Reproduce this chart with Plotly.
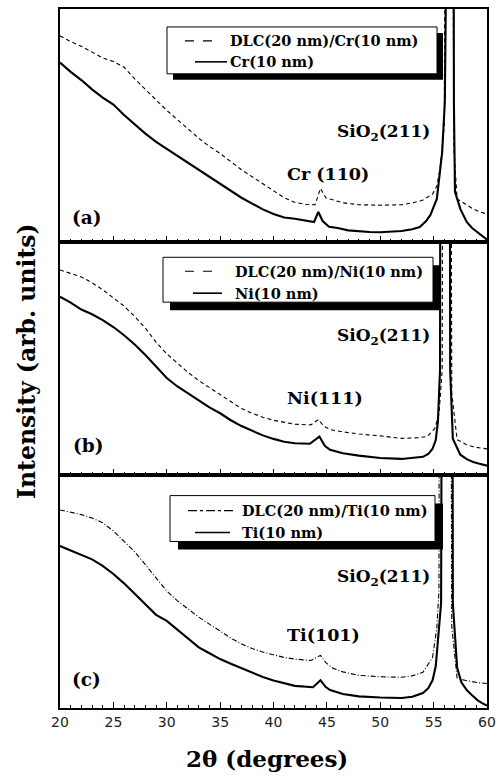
import plotly.graph_objects as go
from plotly.subplots import make_subplots

# ---------------- data ----------------
# Panel (a): Cr
x_a_dlc = [20.0, 21.0, 22.0, 23.0, 24.0, 25.0, 26.0, 27.0, 28.0, 29.0, 30.0, 31.0, 32.0, 33.0,
           34.0, 35.0, 36.0, 37.0, 38.0, 39.0, 40.0, 41.0, 42.0, 43.0, 43.9, 44.4, 44.9, 45.6,
           46.5, 48.0, 50.0, 52.0, 53.0, 54.0, 54.9, 55.3, 55.6, 56.0, 56.25, 56.55, 56.9, 57.2,
           58.0, 58.7, 59.3, 60.0]
y_a_dlc = [88.5, 86.0, 84.0, 81.5, 79.0, 77.5, 75.0, 70.0, 65.5, 61.0, 56.5, 52.5, 48.5, 44.5,
           41.0, 38.0, 34.5, 31.0, 28.0, 25.0, 22.0, 19.0, 17.0, 16.2, 16.0, 23.0, 19.0, 18.0,
           16.8, 16.0, 15.8, 16.0, 16.8, 18.0, 20.6, 24.0, 31.3, 50.0, 400, 400, 40.0, 18.5,
           16.0, 14.2, 13.0, 12.0]
x_a_met = [20.0, 21.0, 22.0, 23.0, 24.0, 25.0, 26.0, 27.0, 28.0, 29.0, 30.0, 31.0, 32.0, 33.0,
           34.0, 35.0, 36.0, 37.0, 38.0, 39.0, 40.0, 41.0, 42.0, 43.0, 43.8, 44.2, 44.6, 45.2,
           46.0, 47.0, 48.0, 49.0, 50.0, 51.0, 52.0, 53.0, 53.7, 54.3, 54.7, 55.3, 55.8, 56.05,
           56.15, 56.8, 56.9, 57.0, 57.5, 58.1, 58.6, 59.1, 59.6, 60.0]
y_a_met = [77.0, 73.0, 69.5, 65.5, 62.0, 59.0, 54.5, 50.5, 46.5, 43.0, 40.0, 37.0, 34.0, 31.0,
           28.0, 25.0, 22.0, 19.0, 16.5, 14.0, 12.0, 10.5, 10.0, 9.2, 8.6, 12.9, 9.0, 6.5,
           6.0, 5.0, 4.5, 4.3, 4.2, 4.3, 4.7, 5.5, 6.4, 9.0, 11.6, 18.5, 38.6, 60.0,
           400, 400, 60.0, 21.5, 14.2, 8.6, 6.0, 4.3, 2.2, 1.0]

# Panel (b): Ni
x_b_dlc = [20.0, 21.0, 22.0, 23.0, 24.0, 25.0, 26.0, 27.0, 28.0, 29.0, 30.0, 31.0, 32.0, 33.0,
           34.0, 35.0, 36.0, 37.0, 38.0, 39.0, 40.0, 41.0, 42.0, 43.5, 44.2, 44.7, 45.3, 46.5,
           48.0, 50.0, 52.0, 53.5, 54.4, 55.1, 55.5, 55.8, 55.95, 56.5, 56.7, 57.2, 58.0, 58.7,
           59.3, 60.0]
y_b_dlc = [88.0, 86.5, 85.0, 82.5, 79.5, 76.0, 72.5, 68.0, 63.0, 57.0, 52.0, 48.0, 44.0, 40.5,
           37.5, 34.5, 31.3, 28.5, 26.5, 24.8, 23.5, 22.5, 21.8, 21.5, 23.8, 21.0, 19.5, 18.5,
           17.6, 16.8, 15.7, 16.0, 16.5, 19.9, 26.0, 45.0, 400, 400, 35.0, 15.2, 13.2, 12.1,
           11.6, 11.2]
x_b_met = [20.0, 21.0, 22.0, 23.0, 24.0, 25.0, 26.0, 27.0, 28.0, 29.0, 30.0, 31.0, 32.0, 33.0,
           34.0, 35.0, 36.0, 37.0, 38.0, 39.0, 40.0, 41.0, 42.0, 43.4, 44.3, 44.8, 45.3, 46.5,
           48.0, 50.0, 52.0, 53.0, 54.0, 54.5, 54.9, 55.2, 55.4, 55.6, 55.7, 56.45, 56.55, 56.8,
           57.5, 58.1, 58.7, 59.3, 60.0]
y_b_met = [76.5, 74.0, 71.0, 69.0, 66.5, 63.5, 60.0, 56.0, 51.5, 46.5, 41.6, 38.0, 35.0, 32.0,
           29.0, 26.5, 23.5, 21.0, 19.0, 17.0, 15.5, 14.3, 13.6, 13.4, 16.5, 12.5, 10.8, 9.3,
           8.3, 7.3, 6.9, 7.2, 7.8, 9.0, 11.3, 15.0, 22.9, 45.0, 400, 400, 45.0, 15.6,
           8.7, 6.8, 5.6, 4.8, 4.0]

# Panel (c): Ti
x_c_dlc = [20.0, 21.0, 22.0, 23.0, 24.0, 25.0, 26.0, 27.0, 28.0, 29.0, 30.0, 31.0, 32.0, 33.0,
           34.0, 35.0, 36.0, 37.0, 38.0, 39.0, 40.0, 41.0, 42.0, 43.5, 44.4, 44.9, 45.6, 46.5,
           48.0, 50.0, 52.0, 53.0, 54.0, 54.9, 55.3, 55.5, 55.6, 56.5, 56.7, 57.2, 58.0, 58.7,
           59.3, 60.0]
y_c_dlc = [85.0, 84.0, 83.0, 81.5, 79.5, 76.0, 71.5, 67.0, 61.5, 56.0, 50.2, 46.0, 42.5, 39.0,
           36.0, 33.0, 30.0, 27.5, 25.5, 24.0, 22.8, 21.7, 21.0, 20.4, 22.6, 19.5, 17.0, 15.5,
           14.0, 13.4, 13.2, 13.8, 15.3, 21.7, 34.5, 50.0, 400, 400, 35.0, 12.8, 11.8, 11.1,
           10.8, 10.5]
x_c_met = [20.0, 21.0, 22.0, 23.0, 24.0, 25.0, 26.0, 27.0, 28.0, 29.0, 30.0, 31.0, 32.0, 33.0,
           34.0, 35.0, 36.0, 37.0, 38.0, 39.0, 40.0, 41.0, 42.0, 43.7, 44.4, 44.9, 45.3, 46.5,
           48.0, 50.0, 52.0, 53.0, 54.0, 54.5, 54.9, 55.2, 55.4, 55.7, 55.9, 56.7, 56.8, 57.2,
           57.6, 58.1, 58.6, 59.1, 59.5, 60.0]
y_c_met = [69.5, 67.5, 65.5, 63.8, 61.0, 57.5, 53.5, 49.0, 44.5, 40.0, 37.4, 33.5, 30.0, 26.0,
           23.5, 21.0, 19.0, 17.0, 15.0, 13.3, 11.8, 10.5, 9.5, 8.9, 11.9, 9.0, 7.7, 6.0,
           5.0, 4.5, 4.3, 4.8, 6.4, 8.5, 11.9, 18.0, 27.7, 45.0, 400, 400, 45.0, 17.4,
           11.0, 7.7, 5.5, 3.4, 2.2, 1.0]

x_ticks = [20, 25, 30, 35, 40, 45, 50, 55, 60]
x_tick_labels = ["20", "25", "30", "35", "40", "45", "50", "55", "60"]

dlc_names = ["DLC(20 nm)/Cr(10 nm)", "DLC(20 nm)/Ni(10 nm)", "DLC(20 nm)/Ti(10 nm)"]
metal_names = ["Cr(10 nm)", "Ni(10 nm)", "Ti(10 nm)"]
peak_names = ["Cr (110)", "Ni(111)", "Ti(101)"]
panel_names = ["(a)", "(b)", "(c)"]
sio2_name = "SiO<sub>2</sub>(211)"

# ---------------- figure ----------------
W, H = 504, 783
L, R, T, B = 60, 17, 7, 75
PW, PH = W - L - R, H - T - B


def pxx(x):
    return (x - L) / PW


def pxy(y):
    return (H - B - y) / PH


fig = make_subplots(rows=3, cols=1, shared_xaxes=True, vertical_spacing=0)

series = [
    (x_a_dlc, y_a_dlc, x_a_met, y_a_met, "4px,3px"),
    (x_b_dlc, y_b_dlc, x_b_met, y_b_met, "4px,3px"),
    (x_c_dlc, y_c_dlc, x_c_met, y_c_met, "5px,2px,1px,2px"),
]

for i, (xd, yd, xm, ym, dash) in enumerate(series):
    fig.add_trace(go.Scatter(x=xd, y=yd, mode="lines", name=dlc_names[i], showlegend=False,
                             line=dict(color="black", width=1.1, dash=dash)), row=i + 1, col=1)
    fig.add_trace(go.Scatter(x=xm, y=ym, mode="lines", name=metal_names[i], showlegend=False,
                             line=dict(color="black", width=2.1)), row=i + 1, col=1)

serif_b = "DejaVu Serif"
for i in range(3):
    r = i + 1
    fig.update_xaxes(range=[20, 60], showline=True, mirror=True, linecolor="black", linewidth=1.5,
                     ticks="inside", ticklen=6, tickwidth=1.2, tickcolor="black",
                     tickvals=x_ticks, ticktext=x_tick_labels,
                     minor=dict(ticks="inside", ticklen=3, tickwidth=1, tickcolor="black", dtick=1),
                     showgrid=False, zeroline=False,
                     tickfont=dict(family="DejaVu Sans", size=14, color="#222"),
                     showticklabels=(r == 3), row=r, col=1)
    fig.update_yaxes(range=[0, 100], showline=True, mirror=True, linecolor="black", linewidth=1.5,
                     ticks="", showticklabels=False, showgrid=False, zeroline=False, row=r, col=1)

# ---------------- manual legends with drop shadow ----------------
legend_boxes = [(167, 25, 437, 72), (163, 256, 433, 301), (170, 495, 435, 541)]
shadow_off = [(6, 6), (7, 8), (8, 8)]
text_x = [228, 233, 240]
line1_y = [39, 270, 510]
line2_y = [60, 292, 532]
sample1 = [(185, 218), (185, 220), (188, 233)]
sample2 = [(195, 227), (193, 222), (195, 230)]
sample_dash = ["dash", "dash", "dashdot"]

shapes = []
annotations = []
for i in range(3):
    x0, y0, x1, y1 = legend_boxes[i]
    dx, dy = shadow_off[i]
    shapes.append(dict(type="rect", xref="paper", yref="paper", layer="above",
                       x0=pxx(x0 + dx), x1=pxx(x1 + dx), y0=pxy(y0 + dy), y1=pxy(y1 + dy),
                       fillcolor="black", line=dict(width=0)))
    shapes.append(dict(type="rect", xref="paper", yref="paper", layer="above",
                       x0=pxx(x0), x1=pxx(x1), y0=pxy(y0), y1=pxy(y1),
                       fillcolor="white", line=dict(color="black", width=1)))
    s0, s1 = sample1[i]
    shapes.append(dict(type="line", xref="paper", yref="paper", layer="above",
                       x0=pxx(s0), x1=pxx(s1), y0=pxy(line1_y[i]), y1=pxy(line1_y[i]),
                       line=dict(color="black", width=1.2, dash=sample_dash[i])))
    s0, s1 = sample2[i]
    shapes.append(dict(type="line", xref="paper", yref="paper", layer="above",
                       x0=pxx(s0), x1=pxx(s1), y0=pxy(line2_y[i]), y1=pxy(line2_y[i]),
                       line=dict(color="black", width=1.6)))
    annotations.append(dict(xref="paper", yref="paper", x=pxx(text_x[i]), y=pxy(line1_y[i]),
                            text="<b>" + dlc_names[i] + "</b>", showarrow=False,
                            xanchor="left", yanchor="middle",
                            font=dict(family=serif_b, size=14.5, color="black")))
    annotations.append(dict(xref="paper", yref="paper", x=pxx(text_x[i]), y=pxy(line2_y[i]),
                            text="<b>" + metal_names[i] + "</b>", showarrow=False,
                            xanchor="left", yanchor="middle",
                            font=dict(family=serif_b, size=14.5, color="black")))

# ---------------- peak labels and panel letters ----------------
sio2_pos_y = [131, 335, 577]
peak_pos = [(328, 172), (325, 397), (323, 635)]
panel_pos = [(87, 216), (88, 445), (86, 679)]
for i in range(3):
    annotations.append(dict(xref="paper", yref="paper", x=pxx(383), y=pxy(sio2_pos_y[i]),
                            text="<b>" + sio2_name + "</b>", showarrow=False,
                            xanchor="center", yanchor="middle",
                            font=dict(family=serif_b, size=17, color="black")))
    annotations.append(dict(xref="paper", yref="paper", x=pxx(peak_pos[i][0]), y=pxy(peak_pos[i][1]),
                            text="<b>" + peak_names[i] + "</b>", showarrow=False,
                            xanchor="center", yanchor="middle",
                            font=dict(family=serif_b, size=17.5, color="black")))
    annotations.append(dict(xref="paper", yref="paper", x=pxx(panel_pos[i][0]), y=pxy(panel_pos[i][1]),
                            text="<b>" + panel_names[i] + "</b>", showarrow=False,
                            xanchor="center", yanchor="middle",
                            font=dict(family=serif_b, size=18.5, color="black")))

# axis titles
annotations.append(dict(xref="paper", yref="paper", x=pxx(266.5), y=pxy(759),
                        text="<b>2θ (degrees)</b>", showarrow=False, xanchor="center", yanchor="middle",
                        font=dict(family=serif_b, size=23, color="black")))
annotations.append(dict(xref="paper", yref="paper", x=pxx(27), y=pxy(360),
                        text="<b>Intensity (arb. units)</b>", showarrow=False, textangle=-90,
                        xanchor="center", yanchor="middle",
                        font=dict(family=serif_b, size=23.5, color="black")))

fig.update_layout(width=W, height=H, margin=dict(l=L, r=R, t=T, b=B, pad=0),
                  paper_bgcolor="white", plot_bgcolor="white", showlegend=False,
                  shapes=shapes, annotations=annotations)

fig.write_html("out.html")
